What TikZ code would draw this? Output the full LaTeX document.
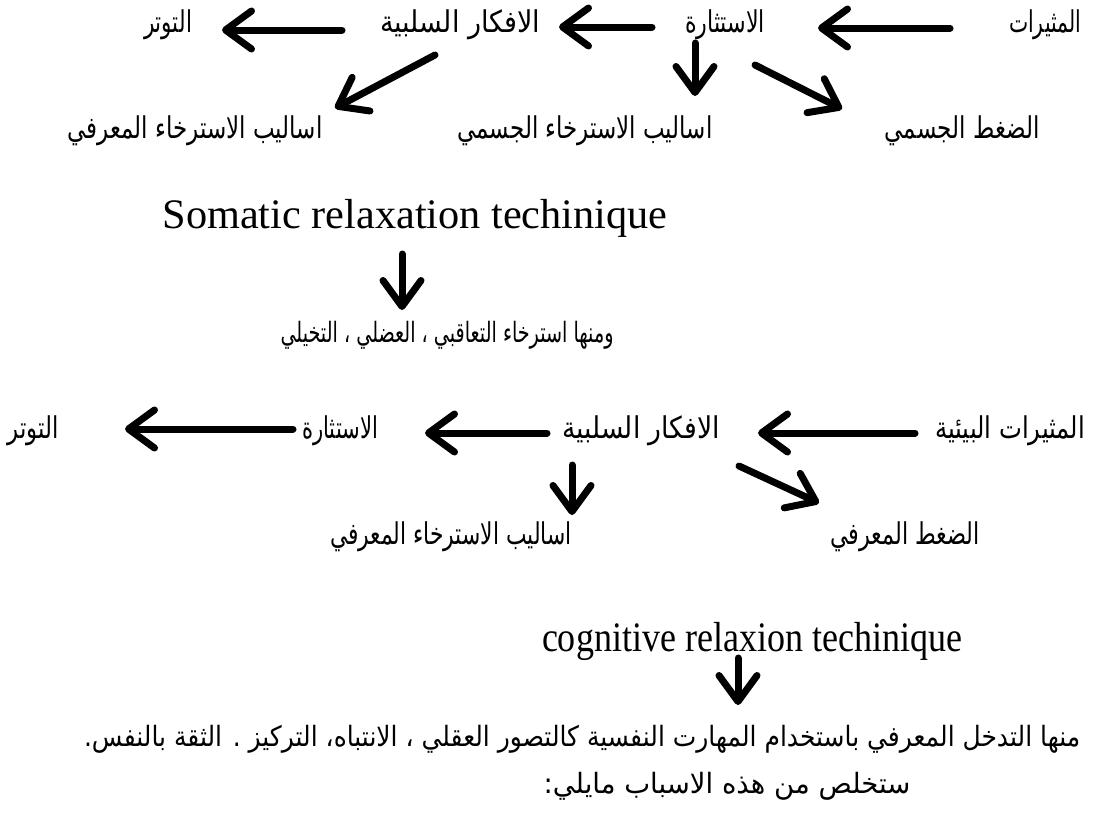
\documentclass[tikz,border=0pt]{standalone}
\usepackage{fontspec}
\usepackage{graphicx}
\setmainfont{Liberation Serif}
\newfontfamily\arabicfont[Script=Arabic]{DejaVu Sans}
\TeXXeTstate=1
\usetikzlibrary{arrows.meta,calc}

\newsavebox\fitbox
% Arabic text #3 at size #2, stretched horizontally to width #1 (pt)
\newcommand{\arfit}[3]{%
  \sbox\fitbox{\arabicfont\fontsize{#2}{#2}\selectfont #3}%
  \pgfmathsetmacro\fitsx{#1/\the\wd\fitbox}%
  \scalebox{\fitsx}[1]{\usebox\fitbox}}
% Latin text #3 at size #2, stretched horizontally to width #1 (pt)
\newcommand{\lafit}[3]{%
  \sbox\fitbox{\fontsize{#2}{#2}\selectfont #3}%
  \pgfmathsetmacro\fitsx{#1/\the\wd\fitbox}%
  \scalebox{\fitsx}[1]{\usebox\fitbox}}

\tikzset{
  lbl/.style={inner sep=0pt, anchor=center},
  arlbl/.style={lbl, text height=22pt, text depth=9pt},
  arr/.style={line width=7pt, line cap=round,
    -{Straight Barb[round, length=26pt, width=38pt]},
    preaction={draw=black!45, opacity=0.35,
      transform canvas={shift={(1.5pt,-2.5pt)}}}},
}

\begin{document}
\begin{tikzpicture}[x=1pt,y=-1pt]
\fill[white] (0,0) rectangle (1094,814);
\path[use as bounding box] (0,0) rectangle (1094,814);

% first chain: somatic side
\node[arlbl] (muth)   at (1045,26) {\arfit{72}{30}{\beginR المثيرات\endR}};
\node[arlbl] (istith) at (725,26)  {\arfit{80}{30}{\beginR الاستثارة\endR}};
\node[arlbl] (afkar)  at (460,26)  {\arfit{160}{30}{\beginR الافكار السلبية\endR}};
\node[arlbl] (tawat)  at (168,26)  {\arfit{48}{30}{\beginR التوتر\endR}};
\node[arlbl] (dagh)   at (962,132) {\arfit{155}{30}{\beginR الضغط الجسمي\endR}};
\node[arlbl] (asalj)  at (585,132) {\arfit{255}{30}{\beginR اساليب الاسترخاء الجسمي\endR}};
\node[arlbl] (asalm)  at (195,132) {\arfit{255}{30}{\beginR اساليب الاسترخاء المعرفي\endR}};

\node[lbl, anchor=base] (som) at (415,228) {\lafit{505}{42}{Somatic relaxation techinique}};
\node[arlbl] (wminha) at (447,336) {\arfit{333}{28}{\beginR ومنها استرخاء التعاقبي ، العضلي ، التخيلي\endR}};

% second chain: cognitive side
\node[arlbl] (muthb)   at (1010,432) {\arfit{150}{30}{\beginR المثيرات البيئية\endR}};
\node[arlbl] (afkarb)  at (641,432)  {\arfit{158}{30}{\beginR الافكار السلبية\endR}};
\node[arlbl] (istithb) at (340,432)  {\arfit{76}{30}{\beginR الاستثارة\endR}};
\node[arlbl] (tawatb)  at (33,432)   {\arfit{51}{30}{\beginR التوتر\endR}};
\node[arlbl] (asalmb)  at (451,538)  {\arfit{242}{30}{\beginR اساليب الاسترخاء المعرفي\endR}};
\node[arlbl] (dagm)    at (905,538)  {\arfit{150}{30}{\beginR الضغط المعرفي\endR}};

\node[lbl, anchor=base] (cog) at (752,651) {\lafit{420}{42}{cognitive relaxion techinique}};
\node[arlbl] (minha) at (582,740) {\arfit{996}{28}{\beginR منها التدخل المعرفي باستخدام المهارت النفسية كالتصور العقلي ، الانتباه، التركيز . الثقة بالنفس.\endR}};
\node[arlbl] (nast)  at (727,787) {\arfit{367}{28}{\beginR ستخلص من هذه الاسباب مايلي:\endR}};

% connectors, first chain
\draw[arr] ($(muth)+(-95,2)$)   -- ($(istith)+(93,2)$);
\draw[arr] ($(istith)+(-73,1)$) -- ($(afkar)+(99,1)$);
\draw[arr] ($(afkar)+(-118,4)$) -- ($(tawat)+(54,4)$);
\draw[arr] ($(istith)+(-30,17)$) -- ($(asalj)+(110,-36)$);
\draw[arr] ($(istith)+(30,39)$)  -- ($(dagh)+(-120,-23)$);
\draw[arr] ($(afkar)+(-25,29)$)  -- ($(asalm)+(140,-24)$);
\draw[arr] ($(som.base)+(-13,26)$) -- ($(wminha)+(-45,-26)$);

% connectors, second chain
\draw[arr] ($(muthb)+(-95,1)$)   -- ($(afkarb)+(117,1)$);
\draw[arr] ($(afkarb)+(-94,1)$)  -- ($(istithb)+(85,1)$);
\draw[arr] ($(istithb)+(-47,-3)$) -- ($(tawatb)+(92,-3)$);
\draw[arr] ($(afkarb)+(-69,33)$) -- ($(asalmb)+(121,-23)$);
\draw[arr] ($(afkarb)+(98,34)$)  -- ($(dagm)+(-86,-35)$);
\draw[arr] ($(cog.base)+(-14,7)$) -- ($(minha)+(156,-35)$);
\end{tikzpicture}
\end{document}
